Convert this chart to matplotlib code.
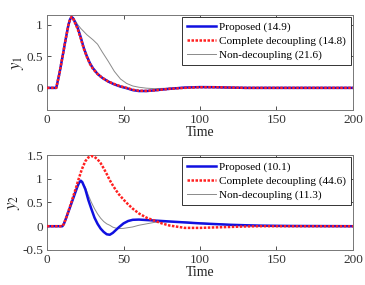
import numpy as np
import matplotlib
matplotlib.use("Agg")
import matplotlib.pyplot as plt
import matplotlib.ticker as mticker

plt.rcParams["font.family"] = ["Liberation Serif", "DejaVu Serif"]
plt.rcParams["mathtext.fontset"] = "stix"

# ---- y1 panel ----
T1 = [0, 5, 6, 8, 10, 12, 14, 15, 16, 17, 18, 20, 22, 24, 26, 28, 30, 33, 36, 40,
      44, 48, 52, 56, 60, 65, 70, 80, 90, 100, 110, 120, 130, 140, 150, 200]
Y1_PROP = [0, 0, 0, 0.22, 0.48, 0.75, 1.0, 1.08, 1.12, 1.1, 1.05, 0.95, 0.8, 0.63,
           0.5, 0.39, 0.31, 0.22, 0.16, 0.1, 0.055, 0.02, -0.005, -0.035, -0.05,
           -0.05, -0.04, -0.015, 0.005, 0.012, 0.01, 0.005, 0.0, 0, 0, 0]
Y1_COMP = [0, 0, 0, 0.22, 0.48, 0.75, 1.0, 1.08, 1.12, 1.1, 1.04, 0.93, 0.78, 0.62,
           0.49, 0.38, 0.3, 0.22, 0.16, 0.1, 0.06, 0.025, 0.0, -0.03, -0.045,
           -0.048, -0.04, -0.015, 0.0, 0.01, 0.01, 0.005, 0, 0, 0, 0]
Y1_NON = [0, 0, 0, 0.22, 0.48, 0.75, 1.0, 1.08, 1.12, 1.11, 1.08, 1.0, 0.94, 0.89,
          0.84, 0.8, 0.76, 0.69, 0.57, 0.42, 0.26, 0.14, 0.07, 0.03, 0.01, -0.005,
          -0.012, -0.005, 0.005, 0.008, 0.005, 0.0, 0, 0, 0, 0]

# ---- y2 panel ----
T2 = [0, 10, 11, 13, 15, 17, 19, 20, 21, 22, 23, 25, 27, 29, 31, 33, 35, 37, 39, 41,
      43, 45, 47, 50, 53, 56, 60, 65, 70, 75, 80, 90, 100, 110, 120, 130, 140, 150,
      160, 200]
Y2_PROP = [0, 0, 0.05, 0.22, 0.4, 0.58, 0.76, 0.85, 0.92, 0.96, 0.93, 0.78, 0.55,
           0.36, 0.18, 0.05, -0.05, -0.12, -0.17, -0.18, -0.14, -0.08, -0.02, 0.06,
           0.11, 0.135, 0.14, 0.13, 0.12, 0.11, 0.1, 0.08, 0.06, 0.045, 0.03, 0.02,
           0.012, 0.008, 0.005, 0]
Y2_COMP = [0, 0, 0.05, 0.22, 0.42, 0.62, 0.82, 0.93, 1.03, 1.13, 1.22, 1.37, 1.45,
           1.48, 1.46, 1.41, 1.33, 1.22, 1.1, 0.97, 0.86, 0.76, 0.67, 0.56, 0.46,
           0.37, 0.27, 0.18, 0.12, 0.06, 0.015, -0.035, -0.035, -0.025, -0.015,
           -0.005, 0.0, 0.0, 0, 0]
Y2_NON = [0, 0, 0.05, 0.22, 0.4, 0.58, 0.76, 0.85, 0.91, 0.94, 0.92, 0.82, 0.65,
          0.5, 0.37, 0.26, 0.17, 0.1, 0.05, 0.02, -0.02, -0.04, -0.05, -0.045,
          -0.03, -0.015, 0.02, 0.05, 0.08, 0.09, 0.095, 0.09, 0.07, 0.05, 0.035,
          0.02, 0.012, 0.008, 0.005, 0]

LABELS1 = ["Proposed (14.9)", "Complete decoupling (14.8)", "Non-decoupling (21.6)"]
LABELS2 = ["Proposed (10.1)", "Complete decoupling (44.6)", "Non-decoupling (11.3)"]

fig = plt.figure(figsize=(3.65, 2.85), dpi=100)
ax1 = fig.add_axes([0.129, 0.614, 0.838, 0.333])
ax2 = fig.add_axes([0.129, 0.123, 0.838, 0.333])

def panel(ax, t, yp, yc, yn, labels, ylim, yticks, ylab):
    ax.plot(t, yp, color="#1010e0", lw=1.8, label=labels[0], zorder=3)
    ax.plot(t, yc, color="#ff2020", lw=1.8, ls=(0, (1, 0.6)), label=labels[1], zorder=4)
    ax.plot(t, yn, color="#8a8a8a", lw=0.7, label=labels[2], zorder=2)
    ax.set_xlim(0, 200)
    ax.set_ylim(*ylim)
    ax.set_xticks([0, 50, 100, 150, 200])
    ax.set_yticks(yticks)
    ax.yaxis.set_major_formatter(mticker.FormatStrFormatter("%g"))
    ax.tick_params(direction="in", top=True, right=True, length=3, width=0.6,
                   labelsize=9.5, colors="#333333", pad=3)
    for s in ax.spines.values():
        s.set_color("#777777")
        s.set_linewidth(0.7)
    ax.set_xlabel("Time", fontsize=10, labelpad=0, color="#222222")
    ax.set_ylabel(ylab, fontsize=12, labelpad=0, color="#222222")
    leg = ax.legend(loc="upper right", fontsize=8.1, frameon=True, fancybox=False,
                    edgecolor="#333333", framealpha=1, handlelength=2.6,
                    borderpad=0.45, labelspacing=0.35, handletextpad=0.3,
                    borderaxespad=0.15)
    leg.get_frame().set_linewidth(0.7)

panel(ax1, T1, Y1_PROP, Y1_COMP, Y1_NON, LABELS1, (-0.35, 1.15), [0, 0.5, 1], "$y_1$")
panel(ax2, T2, Y2_PROP, Y2_COMP, Y2_NON, LABELS2, (-0.5, 1.5), [-0.5, 0, 0.5, 1, 1.5], "$y_2$")

fig.savefig("out.png", dpi=100)
